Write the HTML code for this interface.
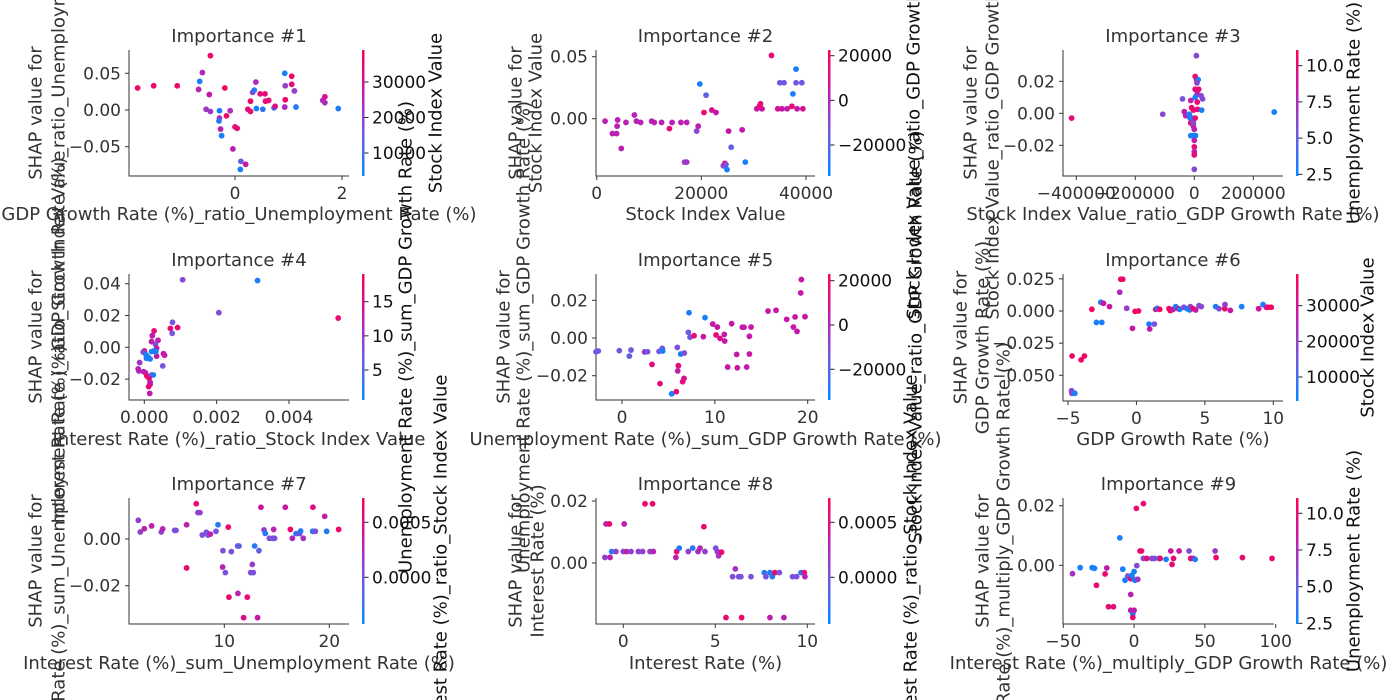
<!DOCTYPE html>
<html><head><meta charset="utf-8"><style>
html,body{margin:0;padding:0;background:#fff;width:1400px;height:700px;overflow:hidden}
svg{display:block}
text{font-family:"DejaVu Sans","Liberation Sans",sans-serif;fill:#333}
</style></head><body>
<svg id="chart" width="1400" height="700" xmlns="http://www.w3.org/2000/svg"></svg>
<script>
// ---- data (x feature value, SHAP value, colour feature value) ----
const p1X=[-1.82,-1.52,-1.08,-0.68,-0.66,-0.61,-0.46,-0.48,-0.54,-0.46,-0.29,-0.29,-0.30,-0.27,-0.25,-0.19,-0.16,-0.09,-0.04,0.0,0.04,0.11,0.10,0.20,0.24,0.29,0.29,0.33,0.36,0.39,0.40,0.47,0.56,0.57,0.63,0.52,0.73,0.75,0.93,0.94,0.94,0.93,1.06,1.06,1.11,1.14,1.64,1.68,1.68,1.93];
const p1Y=[0.030,0.033,0.033,0.028,0.039,0.051,0.074,0.021,0.001,-0.002,-0.001,-0.011,-0.015,-0.026,-0.035,0.030,-0.008,-0.001,-0.053,-0.023,-0.025,-0.070,-0.081,-0.074,0.001,0.012,-0.002,0.024,0.027,0.038,0.002,0.022,0.022,0.012,0.013,0.001,0.003,0.005,0.050,0.033,0.014,0.004,0.046,0.035,0.026,0.004,0.013,0.018,0.010,0.002];
const p1C=[36000,36000,36000,26000,6000,24000,36000,28000,22000,22000,6000,22000,8000,26000,6000,36000,36000,24000,26000,34000,34000,14000,6000,28000,34000,36000,34000,20000,8000,24000,6000,34000,34000,34000,34000,8000,8000,32000,6000,20000,36000,24000,36000,34000,20000,8000,24000,30000,24000,6000];

const p2X=[1600,3000,3800,4000,3900,4700,5600,7200,7600,8400,10500,11000,12400,13900,14400,16100,17200,16800,17200,19100,19400,19700,20500,20900,22000,22800,24200,24500,24700,24900,25200,25700,27800,28400,30600,31300,31600,31100,33400,34600,35000,35800,35400,36400,37300,37500,38100,38100,38300,39200,39400];
const p2Y=[-0.002,-0.012,-0.012,-0.001,-0.006,-0.024,-0.003,0.003,-0.002,-0.003,-0.002,-0.003,-0.003,-0.008,-0.003,-0.003,-0.003,-0.035,-0.035,-0.010,-0.006,0.028,0.005,0.019,0.007,0.005,-0.038,-0.036,-0.037,-0.041,-0.010,-0.023,-0.009,-0.035,0.008,0.012,0.008,0.010,0.051,0.008,0.029,0.029,0.008,0.008,0.010,0.020,0.040,0.029,0.008,0.029,0.008];
const p2C=[2000,2000,2000,2000,2000,2000,2000,2000,2000,2000,2000,2000,2000,15000,2000,2000,2000,-5000,-5000,-10000,2000,-30000,15000,-18000,10000,5000,-10000,15000,-15000,-30000,5000,-18000,5000,-30000,5000,15000,5000,15000,15000,10000,-15000,-15000,5000,5000,15000,-30000,-30000,-15000,5000,-15000,10000];

const p3X=[-416000,-107000,-40000,-34000,-29000,-17000,-12000,-9000,-3000,-14000,-12000,-7000,-3000,0,-3000,3000,-12000,-3000,4000,0,0,0,0,0,7000,3000,8000,13000,9000,3000,15000,10000,23000,28000,3000,10000,11000,25000,271000];
const p3Y=[-0.003,-0.0006,0.009,0.001,-0.0015,-0.0006,0.008,0.0035,0.002,-0.003,-0.006,-0.003,-0.008,-0.010,-0.006,-0.003,-0.014,-0.014,-0.014,-0.017,-0.021,-0.024,-0.026,-0.035,0.036,0.023,0.021,0.021,0.019,0.015,0.015,0.012,0.011,0.009,0.010,0.007,0.0025,0.002,0.0008];
const p3C=[10,6,5.5,8,8,3,8,10,10,3,10,3,8,8,6,10,3,3,3,8,10,8,10,6,6,10,10,3,6,10,10,8,6,6,3,10,10,3,3];

const p4X=[0.00106,0.00313,0.00206,0.00536,0.00078,0.00092,0.00072,0.00077,0.00027,0.00022,0.00038,0.00020,0.00031,0.00034,0.00053,0.00056,0.00034,0.00051,0.0,-0.00003,0.00005,0.00011,0.00020,0.00027,0.00032,0.00006,0.00016,-0.00013,-0.00017,-0.00015,-0.00002,0.00003,0.00007,0.00020,0.00025,0.00013,0.00016,0.00012,0.00016,0.00015];
const p4Y=[0.0425,0.042,0.0218,0.0184,0.0157,0.0124,0.0119,0.0088,0.0103,0.0073,0.0044,0.0036,0.0019,-0.0006,-0.004,-0.005,-0.0056,-0.0117,-0.0023,-0.003,-0.0048,-0.0063,-0.0027,-0.0023,-0.0027,-0.0069,-0.0073,-0.0096,-0.0136,-0.0149,-0.0153,-0.016,-0.018,-0.0174,-0.0174,-0.0195,-0.0232,-0.0247,-0.022,-0.029];
const p4C=[8,2,8,17,7,17,17,7,17,13,13,13,8,13,13,13,13,7,17,8,2,2,2,2,2,2,2,10,12,12,12,13,17,7,2,17,17,17,13,13];

const p5X=[-2.8,-2.55,-0.29,0.79,0.97,2.44,2.76,3.23,3.99,4.34,4.38,4.09,5.35,5.85,5.96,6.0,6.07,6.32,6.71,6.53,6.68,7.22,7.15,7.33,7.76,8.76,8.94,9.77,10.27,10.13,10.56,11.02,11.06,11.38,11.81,12.35,12.42,12.96,13.14,13.43,13.72,13.72,13.9,15.73,16.59,17.74,18.64,18.46,18.85,19.25,19.32,19.71];
const p5Y=[-0.0073,-0.0069,-0.0067,-0.0096,-0.0064,-0.0074,-0.0073,-0.014,-0.0071,-0.0055,-0.0069,-0.0242,-0.0296,-0.0285,-0.005,-0.0175,-0.0147,-0.0085,-0.008,-0.0232,-0.0214,0.0134,0.003,0.0004,0.0012,0.0007,0.0108,0.0074,0.0058,0.0016,-0.0002,0.0019,-0.0016,-0.0154,0.0076,-0.0087,-0.0158,0.0057,0.0057,-0.0154,-0.0085,0.0009,0.0058,0.0143,0.0147,0.0099,0.0112,0.0058,0.0035,0.0239,0.031,0.0113];
const p5C=[-15000,-15000,-15000,-18000,-15000,-3000,-15000,15000,-15000,-15000,-30000,15000,-30000,15000,-12000,3000,15000,-30000,-12000,15000,12000,-30000,-15000,-15000,15000,5000,-30000,5000,5000,15000,12000,5000,5000,5000,5000,5000,5000,5000,5000,5000,5000,5000,5000,5000,5000,5000,5000,5000,5000,5000,5000,5000];

const p6X=[-4.7,-4.04,-3.8,-4.74,-4.72,-4.5,-3.26,-2.92,-2.53,-2.6,-2.41,-1.97,-1.22,-1.14,-1.0,-0.71,-0.29,-0.1,0.15,0.92,1.31,0.97,1.41,1.51,1.7,2.38,2.48,2.68,2.87,3.07,3.16,3.46,3.7,3.89,3.94,4.14,4.33,4.57,4.74,5.79,6.03,6.45,6.47,6.86,7.69,8.93,9.25,9.49,9.61,9.85];
const p6Y=[-0.035,-0.038,-0.035,-0.062,-0.064,-0.064,0.0013,-0.0089,-0.0089,0.0068,0.006,0.0034,0.0146,0.0247,0.0247,0.0021,-0.0135,-0.0003,0,-0.0102,-0.0102,-0.014,0.0013,0.002,0.0013,0.0018,0.0003,0.0013,0.0034,0.0018,0.0013,0.0029,0.0018,0.0008,0.0034,0.0018,0.0008,0.0042,0.0034,0.0034,0.0018,0.0018,0.005,0.0005,0.0034,0.0018,0.005,0.0029,0.0029,0.0029];
const p6C=[36000,36000,36000,18000,18000,6000,36000,6000,6000,6000,28000,28000,24000,36000,36000,20000,28000,36000,36000,6000,16000,28000,36000,6000,36000,36000,36000,28000,6000,36000,6000,18000,6000,6000,18000,36000,28000,18000,18000,6000,18000,36000,20000,28000,6000,30000,6000,24000,36000,36000];

const p7X=[1.81,2.0,2.38,3.08,4.0,4.13,5.27,5.4,6.41,6.41,7.33,7.49,7.68,7.9,8.29,8.44,8.67,9.21,9.4,9.87,9.84,10.1,10.38,10.44,10.67,11.27,11.4,11.3,11.84,12.19,12.51,12.67,12.76,12.89,13.17,13.3,13.49,13.78,13.9,14.29,14.6,14.7,14.79,15.81,16.29,16.48,16.83,17.17,17.27,17.52,18.44,18.41,18.67,19.56,19.75,20.89];
const p7Y=[0.008,0.003,0.0044,0.0056,0.003,0.0043,0.0037,0.0037,0.0061,-0.0124,0.0151,0.0113,0.0113,0.0017,0.0029,0.0017,0.0021,0.0033,0.0061,-0.005,-0.012,-0.0144,0.0051,-0.0249,-0.0054,-0.003,-0.003,-0.0233,-0.0337,-0.0249,-0.0144,-0.0109,-0.0144,-0.003,-0.0337,-0.005,0.0136,0.0039,0.0024,0.0003,0.0003,0.0041,0.0003,0.0136,0.0041,0.0003,0.0023,0.0023,0.0034,0.0003,0.0136,0.0033,0.0033,0.0097,0.0033,0.0041];
const p7C=[0.0001,0.0001,0.0003,0.0003,0.0001,0.0003,0.0,0.0,0.0003,0.0006,0.0006,0.0001,0.0001,0.0,0.0,0.0,0.0003,0.0,-0.0003,0.0,0.0003,0.0,0.0006,0.0006,0.0,-0.0001,-0.0001,0.0003,0.0005,0.0006,0.0,0.0001,0.0,-0.0003,0.0004,-0.0001,0.0004,0.0001,-0.0003,0.0,0.0,0.0003,0.0,0.0004,0.0006,0.0003,-0.0003,0.0001,-0.0003,0.0002,0.0005,-0.0003,0.0,0.0003,-0.0003,0.0006];

const p8X=[-1.0,-0.94,-0.76,-0.72,-0.63,-0.4,0,0.05,0.18,0.42,0.82,1.05,1.18,1.45,1.59,1.63,2.86,2.9,3.04,3.53,3.77,4.06,4.17,4.38,4.44,5.02,5.11,5.18,5.34,5.58,5.94,6.09,6.27,6.39,6.43,6.94,7.66,7.75,7.97,7.97,8.1,8.24,8.48,8.73,9.2,9.42,9.66,9.84,9.87];
const p8Y=[0.0018,0.0126,0.0126,0.0018,0.0037,0.0037,0.0037,0.0126,0.0037,0.0037,0.0037,0.0037,0.0191,0.0037,0.0191,0.0037,0.0018,0.0037,0.0048,0.0037,0.0048,0.0037,0.0048,0.0117,0.0037,0.0048,0.0037,0.0023,0.0035,-0.0176,-0.0044,-0.0019,-0.0044,-0.0044,-0.0176,-0.0044,-0.0031,-0.0044,-0.0031,-0.0176,-0.0044,-0.0031,-0.0031,-0.0176,-0.0044,-0.0044,-0.0031,-0.0031,-0.0044];
const p8C=[0.0001,0.0003,0.0006,0.0003,-0.0003,0.0001,0.0001,0.0003,0.0003,0.0001,0.0001,0.0001,0.0006,0.0001,0.0006,0.0003,0.0003,0.0006,-0.0003,0.0001,-0.0003,0.0002,0.0003,0.0006,0.0001,0.0,0.0001,0.0002,0.0006,0.0006,0.0,0.0002,0.0,0.0,0.0006,0.0,-0.0003,0.0,-0.0003,0.0003,-0.0003,0.0006,0.0,0.0003,0.0,0.0,-0.0003,0.0006,0.0003];

const p9X=[-43.5,-38.1,-29.6,-28,-26.6,-20.5,-19.3,-18.1,-14.6,-10.1,-8,-6.4,-4.5,-2.4,-2.4,-2.4,-0.9,-1.6,-0.9,-0.9,0,0,0.5,1.6,1.9,2.6,4.2,5.2,6.6,6.6,8.9,12.5,14.4,17.6,18.4,22.6,25.9,26.8,27.8,31.8,38.8,40,41.9,43.1,57.2,57.9,76.5,97.4];
const p9Y=[-0.0028,-0.0008,-0.0008,-0.001,-0.0067,-0.0029,-0.0009,-0.0139,-0.0139,0.0092,-0.0013,-0.005,-0.0036,-0.0045,-0.0098,-0.0151,-0.0045,-0.0034,-0.0163,-0.0175,-0.0151,-0.0021,-0.005,0.0191,-0.0001,-0.0047,0.0048,0.0048,0.0023,0.0207,0.0023,0.0023,0.0023,0.0023,0.0023,0.002,0.0048,0.0003,0.0023,0.0048,0.0048,0.0023,0.0023,0.002,0.0048,0.0026,0.0026,0.0023];
const p9C=[7,3,3,3,10,10,8,10,10,3,3,3,5.5,10,8,8,8,3,3,10,8,3,3,10,6,7,10,10,6,10,10,6,6,3,10,3,8.5,10,10,8.5,6,10,8.5,3,7,10,10,10];

// tick labels
const p1XTicks=[0,2], p1YTicks=[0.05,0.00,-0.05], p1CTicks=[10000,20000,30000];
const p2XTicks=[0,20000,40000], p2YTicks=[0.05,0.00], p2CTicks=[-20000,0,20000];
const p3XTicks=[-400000,-200000,0,200000], p3YTicks=[0.02,0.00,-0.02], p3CTicks=[2.5,5.0,7.5,10.0];
const p4XTicks=[0.000,0.002,0.004], p4YTicks=[0.04,0.02,0.00,-0.02], p4CTicks=[5,10,15];
const p5XTicks=[0,10,20], p5YTicks=[0.02,0.00,-0.02], p5CTicks=[-20000,0,20000];
const p6XTicks=[-5,0,5,10], p6YTicks=[0.025,0.000,-0.025,-0.050], p6CTicks=[10000,20000,30000];
const p7XTicks=[10,20], p7YTicks=[0.00,-0.02], p7CTicks=[0.0000,0.0005];
const p8XTicks=[0,5,10], p8YTicks=[0.02,0.00], p8CTicks=[0.0000,0.0005];
const p9XTicks=[-50,0,50,100], p9YTicks=[0.02,0.00], p9CTicks=[2.5,5.0,7.5,10.0];

const svg=document.getElementById('chart');
const NS='http://www.w3.org/2000/svg';
const TK='17px', LB='18px';
function mk(tag,attrs,parent){const e=document.createElementNS(NS,tag);for(const k in attrs)e.setAttribute(k,attrs[k]);(parent||svg).appendChild(e);return e;}
function lin(a,b){return v=>a[1]+(v-a[0])*(b[1]-a[1])/(b[0]-a[0]);}
function inv(a,b){return p=>a[0]+(p-a[1])*(b[0]-a[0])/(b[1]-a[1]);}
const stops=[[0,[0,138,255]],[0.35,[120,84,222]],[0.68,[196,24,170]],[1,[255,0,82]]];
function cmap(t){t=Math.max(0,Math.min(1,t));for(let i=1;i<stops.length;i++){if(t<=stops[i][0]){const a=stops[i-1],b=stops[i],f=(t-a[0])/(b[0]-a[0]);const c=a[1].map((v,j)=>Math.round(v+(b[1][j]-v)*f));return `rgb(${c[0]},${c[1]},${c[2]})`;}}return 'rgb(255,0,82)';}
function fmt(v,d){const s=Math.abs(v).toFixed(d);return (v<0?'\u2212':'')+s;}

let gid=0;
function panel(o){
  const g=mk('g',{});
  
  
  const [L,T,R,B]=o.box;
  const xs=lin(o.xc[0],o.xc[1]), ys=lin(o.yc[0],o.yc[1]), cs=inv(o.cc[0],o.cc[1]);
  const cTop=cs(T), cBot=cs(B);
  const t=mk('text',{x:(L+R)/2,y:o.ty,'text-anchor':'middle','font-size':LB},g);t.textContent='Importance #'+o.n;
  
  const sp=mk('path',{d:`M${L},${T}V${B}H${R}`,stroke:'#333','stroke-width':1,fill:'none'},g);
  
  o.xt.forEach(v=>{const px=xs(v);
    mk('line',{x1:px,x2:px,y1:B,y2:B+4,stroke:'#333'},g);
    const tx=mk('text',{x:px,y:B+23,'text-anchor':'middle','font-size':TK},g);tx.textContent=fmt(v,o.xd);
    });
  o.yt.forEach(v=>{const py=ys(v);
    mk('line',{x1:L-4,x2:L,y1:py,y2:py,stroke:'#333'},g);
    const ty=mk('text',{x:L-8,y:py+6,'text-anchor':'end','font-size':TK},g);ty.textContent=fmt(v,o.yd);
    });
  for(let i=0;i<o.X.length;i++){
    const c=mk('circle',{cx:xs(o.X[i]),cy:ys(o.Y[i]),r:2.9,fill:cmap((o.C[i]-cBot)/(cTop-cBot))},g);
    
    
  }
  const id='cg'+(gid++);
  const lg=mk('linearGradient',{id:id,x1:0,y1:1,x2:0,y2:0},g);
  for(let k=0;k<=10;k++)mk('stop',{offset:k/10,'stop-color':cmap(k/10)},lg);
  const cb=mk('rect',{x:o.cx,y:T,width:2.5,height:B-T,fill:`url(#${id})`},g);
  
  const cpx=lin(o.cc[0],o.cc[1]);
  o.ct.forEach(v=>{const py=cpx(v);
    mk('line',{x1:o.cx+2.5,x2:o.cx+6.5,y1:py,y2:py,stroke:'#222'},g);
    const tc=mk('text',{x:o.cx+10,y:py+6,'font-size':TK,style:'fill:#111'},g);tc.textContent=fmt(v,o.cd);
    });
  const cy=(T+B)/2;
  const xl=mk('text',{x:(L+R)/2,y:o.xly,'text-anchor':'middle','font-size':LB},g);xl.textContent=o.feat;
  
  const y1=mk('text',{x:0,y:0,'text-anchor':'middle','font-size':LB,transform:`translate(${o.yl1+6.5},${cy}) rotate(-90)`},g);y1.textContent='SHAP value for';
  
  const y2=mk('text',{x:0,y:0,'text-anchor':'middle','font-size':LB,transform:`translate(${o.yl2+6.5},${cy}) rotate(-90)`},g);y2.textContent=o.feat;
  
  const cl=mk('text',{x:0,y:0,'text-anchor':'middle','font-size':LB,transform:`translate(${o.clx+6.5},${cy}) rotate(-90)`,style:'fill:#111'},g);cl.textContent=o.cfeat;
  
}
const F1='GDP Growth Rate (%)_ratio_Unemployment Rate (%)',F2='Stock Index Value',F3='Stock Index Value_ratio_GDP Growth Rate (%)',
F4='Interest Rate (%)_ratio_Stock Index Value',F5='Unemployment Rate (%)_sum_GDP Growth Rate (%)',F6='GDP Growth Rate (%)',
F7='Interest Rate (%)_sum_Unemployment Rate (%)',F8='Interest Rate (%)',F9='Interest Rate (%)_multiply_GDP Growth Rate (%)',U='Unemployment Rate (%)';
panel({n:1,box:[129,50,349,176],xc:[[0,235],[2,342]],yc:[[0,110],[0.05,73.3]],cc:[[10000,153],[30000,82]],X:p1X,Y:p1Y,C:p1C,xt:p1XTicks,yt:p1YTicks,ct:p1CTicks,xd:0,yd:2,cd:0,cx:362,ty:42,xly:220,yl1:35,yl2:58,clx:435,feat:F1,cfeat:F2});
panel({n:2,box:[596,50,815,176],xc:[[0,596.7],[40000,806]],yc:[[0,118.7],[0.05,56.7]],cc:[[-20000,145],[20000,55.7]],X:p2X,Y:p2Y,C:p2C,xt:p2XTicks,yt:p2YTicks,ct:p2CTicks,xd:0,yd:2,cd:0,cx:828,ty:42,xly:220,yl1:515,yl2:535,clx:913,feat:F2,cfeat:F3});
panel({n:3,box:[1063,50,1283,176],xc:[[0,1194.3],[200000,1253.3]],yc:[[0,113.3],[0.02,81.3]],cc:[[2.5,174.3],[10,65.7]],X:p3X,Y:p3Y,C:p3C,xt:p3XTicks,yt:p3YTicks,ct:p3CTicks,xd:0,yd:2,cd:1,cx:1296,ty:42,xly:220,yl1:970,yl2:992,clx:1353,feat:F3,cfeat:U});
panel({n:4,box:[129,274,349,400],xc:[[0,144.3],[0.004,289]],yc:[[0,347.3],[0.04,283.7]],cc:[[5,370],[15,301.7]],X:p4X,Y:p4Y,C:p4C,xt:p4XTicks,yt:p4YTicks,ct:p4CTicks,xd:3,yd:2,cd:0,cx:362,ty:266,xly:445,yl1:35,yl2:58,clx:405,feat:F4,cfeat:F5});
panel({n:5,box:[596,274,815,400],xc:[[0,622],[20,807.7]],yc:[[0,338],[0.02,300.3]],cc:[[-20000,369.3],[20000,280.7]],X:p5X,Y:p5Y,C:p5C,xt:p5XTicks,yt:p5YTicks,ct:p5CTicks,xd:0,yd:2,cd:0,cx:828,ty:266,xly:445,yl1:503,yl2:523,clx:915,feat:F5,cfeat:F3});
panel({n:6,box:[1063,274,1283,401],xc:[[-5,1068],[10,1273.3]],yc:[[0,311],[-0.05,375.3]],cc:[[10000,377],[30000,305.7]],X:p6X,Y:p6Y,C:p6C,xt:p6XTicks,yt:p6YTicks,ct:p6CTicks,xd:0,yd:3,cd:0,cx:1296,ty:266,xly:445,yl1:960,yl2:982,clx:1367,feat:F6,cfeat:F2});
panel({n:7,box:[129,498,349,624],xc:[[10,224.3],[20,329.3]],yc:[[0,539],[-0.02,585.7]],cc:[[0,577.3],[0.0005,522.3]],X:p7X,Y:p7Y,C:p7C,xt:p7XTicks,yt:p7YTicks,ct:p7CTicks,xd:0,yd:2,cd:4,cx:362,ty:490,xly:669,yl1:35,yl2:58,clx:440,feat:F7,cfeat:F4});
panel({n:8,box:[596,498,815,624],xc:[[0,623.3],[10,807.3]],yc:[[0,563],[0.02,501]],cc:[[0,577.3],[0.0005,522.3]],X:p8X,Y:p8Y,C:p8C,xt:p8XTicks,yt:p8YTicks,ct:p8CTicks,xd:0,yd:2,cd:4,cx:828,ty:490,xly:669,yl1:515,yl2:537,clx:910,feat:F8,cfeat:F4});
panel({n:9,box:[1063,498,1274,624],xc:[[-50,1063.3],[100,1275.7]],yc:[[0,565.3],[0.02,505.7]],cc:[[2.5,623.3],[10,513.3]],X:p9X,Y:p9Y,C:p9C,xt:p9XTicks,yt:p9YTicks,ct:p9CTicks,xd:0,yd:2,cd:1,cx:1296,ty:490,xly:669,yl1:982,yl2:1003,clx:1353,feat:F9,cfeat:U});
</script>
</body></html>
